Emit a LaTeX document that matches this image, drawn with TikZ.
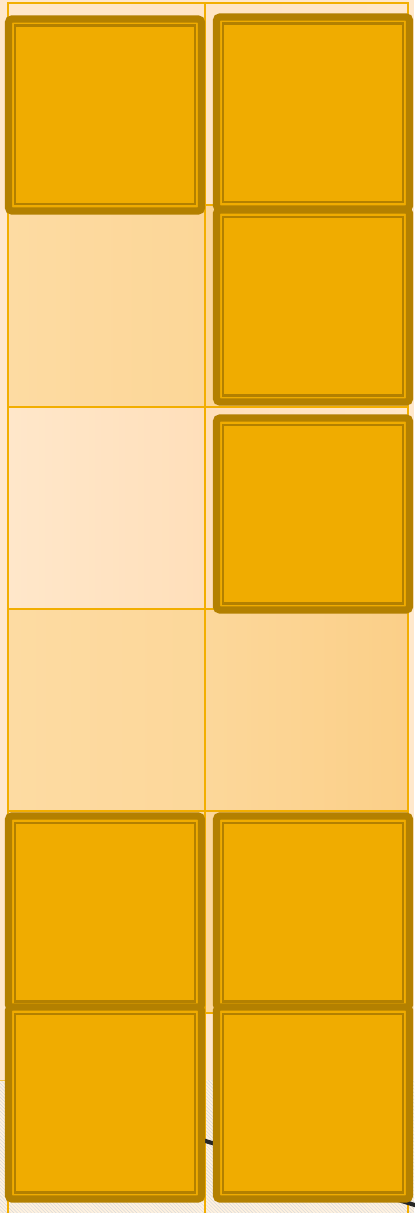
\documentclass[tikz,border=0pt]{standalone}
\usepackage{tikz}
\usetikzlibrary{patterns, positioning}
\usepackage{xcolor}

\definecolor{bgcream}{HTML}{FFE8CC}
\definecolor{gridline}{HTML}{F2AE00}
\definecolor{tilefill}{HTML}{F0AC00}
\definecolor{tiledark}{HTML}{B38000}
\definecolor{lightA}{HTML}{FFE7CA}
\definecolor{lightB}{HTML}{FFDFBA}
\definecolor{sandA}{HTML}{FDDBA2}
\definecolor{sandB}{HTML}{FBCF88}
\definecolor{hatchbg}{HTML}{FFF2E0}

\begin{document}
\begin{tikzpicture}[x=0.03cm, y=-0.03cm,
    cell/.style={rectangle, draw=gridline, line width=1.2pt, minimum height=6.06cm, inner sep=0pt},
    colA/.style={minimum width=5.91cm},
    colB/.style={minimum width=6.09cm},
    tile/.style={rectangle, rounded corners=3pt, draw=tiledark, line width=6.2pt, fill=tilefill,
        minimum width=5.79cm, minimum height=5.76cm, inner sep=0pt,
        path picture={\draw[tiledark, line width=1.8pt, sharp corners]
            ([shift={(5.6pt,5.6pt)}]path picture bounding box.south west) rectangle
            ([shift={(-5.6pt,-5.6pt)}]path picture bounding box.north east);}}
]
% Background
\useasboundingbox (0,0) rectangle (414,1213);
\fill[bgcream] (0,0) rectangle (414,1213);
\fill[hatchbg] (0,1080) rectangle (414,1213);
\fill[pattern=north west lines, pattern color=gray!30] (0,1080) rectangle (414,1213);
\draw[gridline!70, line width=0.8pt] (0,1080) -- (8,1080);

% Cells (top to bottom)
\node[cell, colA, left color=lightA, right color=lightA!70!lightB] (c11) at (106.5,104) {};
\node[cell, colB, left color=lightA!70!lightB, right color=lightA] (c12) at (306.5,104) {};
\node[cell, colA, left color=sandA, right color=sandA!60!sandB] (c21) at (106.5,306) {};
\node[cell, colB, left color=sandA!60!sandB, right color=sandB] (c22) at (306.5,306) {};
\node[cell, colA, left color=lightA, right color=lightB] (c31) at (106.5,508) {};
\node[cell, colB, left color=lightB, right color=lightA] (c32) at (306.5,508) {};
\node[cell, colA, left color=sandA, right color=sandA!70!sandB] (c41) at (106.5,710) {};
\node[cell, colB, left color=sandA!70!sandB, right color=sandB] (c42) at (306.5,710) {};
\node[cell, colA, fill=sandA] (c51) at (106.5,912) {};
\node[cell, colB, fill=sandA!70!sandB] (c52) at (306.5,912) {};
\node[cell, colA] (c61) at (106.5,1114) {};
\node[cell, colB] (c62) at (306.5,1114) {};

% Stub behind the lowest tiles
\coordinate (stubA) at (150,1124);
\coordinate (stubB) at (418,1206);
\draw[line width=3.5pt, black!85] (stubA) -- (stubB);

% Tiles
\node[tile] (t11) at (105,115) {};
\node[tile] (t12) at (313,113) {};
\node[tile] (t22) at (313,306) {};
\node[tile] (t32) at (313,514) {};
\node[tile] (t51) at (105,912) {};
\node[tile] (t52) at (313,912) {};
\node[tile] (t61) at (105,1103) {};
\node[tile] (t62) at (313,1103) {};
\end{tikzpicture}
\end{document}
